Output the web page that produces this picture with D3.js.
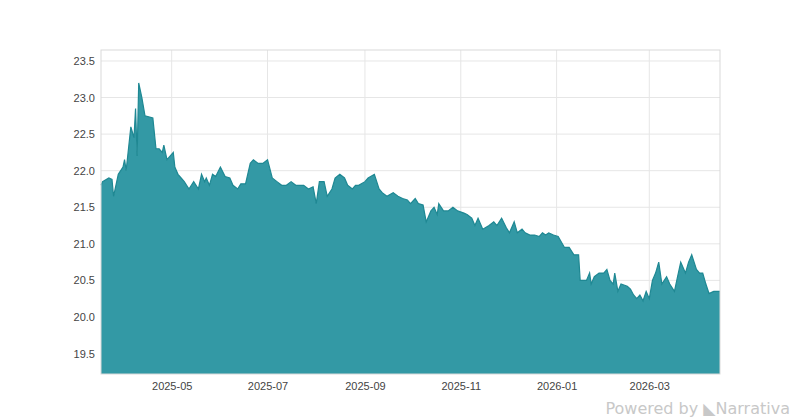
<!DOCTYPE html>
<html><head><meta charset="utf-8">
<script src="https://cdn.jsdelivr.net/npm/d3@7"></script>
<style>
body{margin:0;background:#fff;font-family:"DejaVu Sans",sans-serif;}
.tick text{fill:#444;font-size:11px;}
</style></head>
<body><div id="chart"></div>
<script>
// dates and closing values
const dates = ["2025-03-17","2025-03-18","2025-03-22","2025-03-24","2025-03-25","2025-03-28","2025-03-31","2025-04-01","2025-04-02","2025-04-03","2025-04-05","2025-04-07","2025-04-08","2025-04-09","2025-04-10","2025-04-12","2025-04-14","2025-04-19","2025-04-21","2025-04-23","2025-04-25","2025-04-26","2025-04-28",
"2025-05-02","2025-05-03","2025-05-05","2025-05-07","2025-05-09","2025-05-12","2025-05-15","2025-05-18","2025-05-20","2025-05-22","2025-05-23","2025-05-25","2025-05-27","2025-05-29","2025-06-01","2025-06-04","2025-06-07","2025-06-09","2025-06-12","2025-06-14","2025-06-17","2025-06-20","2025-06-22","2025-06-25","2025-06-28",
"2025-07-01","2025-07-04","2025-07-07","2025-07-10","2025-07-13","2025-07-16","2025-07-19","2025-07-22","2025-07-24","2025-07-27","2025-07-30","2025-08-01","2025-08-03","2025-08-06","2025-08-08","2025-08-11","2025-08-13","2025-08-16","2025-08-19","2025-08-21","2025-08-24","2025-08-26","2025-08-28",
"2025-09-01","2025-09-03","2025-09-07","2025-09-10","2025-09-12","2025-09-15","2025-09-19","2025-09-22","2025-09-25","2025-09-28","2025-09-30","2025-10-03","2025-10-05","2025-10-08","2025-10-10","2025-10-13","2025-10-15","2025-10-17","2025-10-18","2025-10-21","2025-10-24","2025-10-27","2025-10-30",
"2025-11-03","2025-11-05","2025-11-08","2025-11-10","2025-11-12","2025-11-15","2025-11-19","2025-11-22","2025-11-24","2025-11-27","2025-11-30","2025-12-02","2025-12-05","2025-12-07","2025-12-10","2025-12-12","2025-12-15","2025-12-18","2025-12-21","2025-12-23","2025-12-25","2025-12-27","2025-12-30",
"2026-01-02","2026-01-06","2026-01-09","2026-01-12","2026-01-15","2026-01-16","2026-01-20","2026-01-22","2026-01-23","2026-01-25","2026-01-28","2026-01-31","2026-02-02","2026-02-04","2026-02-06","2026-02-07","2026-02-09","2026-02-11","2026-02-15","2026-02-17","2026-02-19","2026-02-21","2026-02-23","2026-02-25","2026-02-27",
"2026-03-01","2026-03-03","2026-03-05","2026-03-07","2026-03-09","2026-03-12","2026-03-14","2026-03-17","2026-03-19","2026-03-21","2026-03-24","2026-03-26","2026-03-28","2026-03-31","2026-04-02","2026-04-04","2026-04-06","2026-04-08","2026-04-11","2026-04-15"];
const prices = [21.8,21.85,21.9,21.88,21.65,21.95,22.05,22.15,22.0,22.2,22.6,22.45,22.85,22.2,23.2,23.0,22.75,22.72,22.3,22.3,22.25,22.35,22.15,
22.25,22.05,21.95,21.9,21.85,21.75,21.85,21.75,21.95,21.85,21.9,21.8,21.95,21.92,22.05,21.92,21.9,21.8,21.75,21.82,21.82,22.1,22.15,22.1,22.1,
22.15,21.9,21.85,21.8,21.8,21.85,21.8,21.8,21.8,21.75,21.78,21.55,21.85,21.85,21.65,21.75,21.9,21.95,21.9,21.8,21.75,21.8,21.8,
21.85,21.9,21.95,21.75,21.7,21.65,21.7,21.65,21.62,21.6,21.55,21.62,21.55,21.53,21.3,21.45,21.5,21.4,21.55,21.45,21.45,21.5,21.45,
21.42,21.4,21.35,21.25,21.35,21.2,21.25,21.3,21.25,21.35,21.22,21.15,21.3,21.15,21.2,21.15,21.12,21.12,21.1,21.15,21.12,21.15,21.12,
21.1,20.95,20.95,20.85,20.85,20.5,20.5,20.6,20.45,20.55,20.6,20.6,20.65,20.5,20.45,20.6,20.35,20.45,20.42,20.38,20.3,20.25,20.3,20.22,20.35,
20.25,20.5,20.6,20.75,20.45,20.55,20.45,20.35,20.55,20.75,20.6,20.75,20.85,20.65,20.6,20.6,20.45,20.32,20.35,20.35];
const yTicks = [19.5,20.0,20.5,21.0,21.5,22.0,22.5,23.0,23.5];
const xTicks = ["2025-05-01","2025-07-01","2025-09-01","2025-11-01","2026-01-01","2026-03-01"];

const parse = d3.timeParse("%Y-%m-%d");
const data = dates.map((d, i) => ({date: parse(d), value: prices[i]}));

const W = 800, H = 420;
const margin = {top: 50, right: 80, bottom: 46, left: 101};
const width = W - margin.left - margin.right;
const height = H - margin.top - margin.bottom;

const svg = d3.select("#chart").append("svg")
	.attr("width", W).attr("height", H);
const g = svg.append("g")
	.attr("transform", "translate(" + margin.left + "," + margin.top + ")");

const x = d3.scaleTime()
	.domain([parse(dates[0]), parse(dates[dates.length - 1])])
	.range([0, width]);
const y = d3.scaleLinear().domain([19.22, 23.65]).range([height, 0]);

// grid
g.selectAll(".hgrid").data(yTicks).enter().append("line")
	.attr("x1", 0).attr("x2", width)
	.attr("y1", d => y(d)).attr("y2", d => y(d))
	.attr("stroke", "#e6e6e6");
g.selectAll(".vgrid").data(xTicks).enter().append("line")
	.attr("x1", d => x(parse(d))).attr("x2", d => x(parse(d)))
	.attr("y1", 0).attr("y2", height)
	.attr("stroke", "#e6e6e6");

// area
const area = d3.area()
	.x(d => x(d.date))
	.y0(height)
	.y1(d => y(d.value));
g.append("path").datum(data)
	.attr("d", area)
	.attr("fill", "#3399a5");
g.append("path").datum(data)
	.attr("d", d3.line().x(d => x(d.date)).y(d => y(d.value)))
	.attr("fill", "none").attr("stroke", "#1f8893").attr("stroke-width", 1.2);

// frame
g.append("rect").attr("width", width).attr("height", height)
	.attr("fill", "none").attr("stroke", "#d9d9d9");

// axes
const yAxis = g.append("g")
	.call(d3.axisLeft(y).tickValues(yTicks).tickFormat(d3.format(".1f")).tickSize(0).tickPadding(6));
yAxis.select(".domain").remove();

const xAxis = g.append("g")
	.attr("transform", "translate(0," + height + ")")
	.call(d3.axisBottom(x).tickValues(xTicks.map(parse)).tickFormat(d3.timeFormat("%Y-%m")).tickSize(0).tickPadding(8));
xAxis.select(".domain").remove();

// watermark
svg.append("text")
	.attr("x", 790).attr("y", 414)
	.attr("text-anchor", "end")
	.attr("fill", "#c8c8c8")
	.attr("font-size", 16)
	.text("Powered by  ◣Narrativa");
</script>
</body></html>
